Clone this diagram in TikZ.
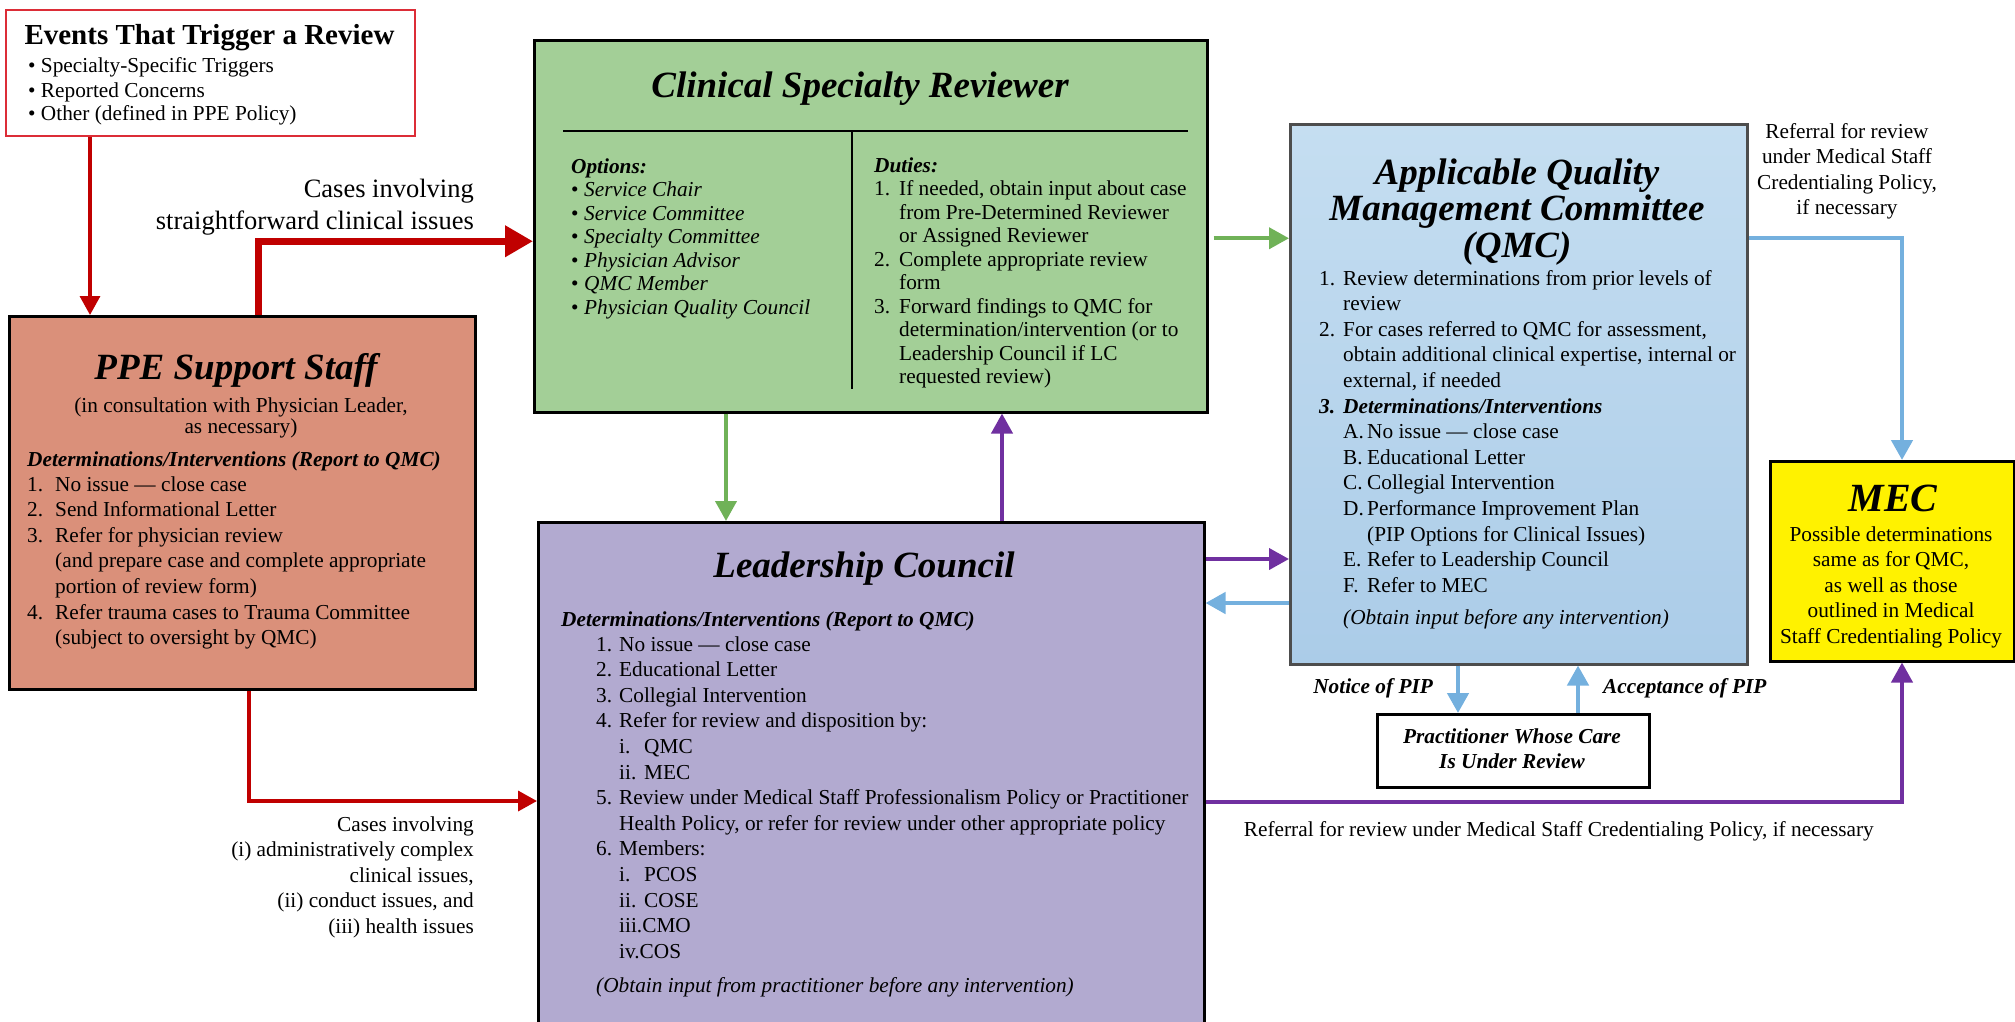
\documentclass[tikz,border=0pt]{standalone}
\usepackage{fontspec}
\setmainfont{Liberation Serif}
\usetikzlibrary{arrows.meta}

\definecolor{arrred}{HTML}{C00000}
\definecolor{evtred}{HTML}{DC2D37}
\definecolor{ppefill}{HTML}{DA907A}
\definecolor{csrfill}{HTML}{A3CF97}
\definecolor{lcfill}{HTML}{B2AAD0}
\definecolor{qmctop}{HTML}{C5DEF1}
\definecolor{qmcbot}{HTML}{ABCCE8}
\definecolor{qmcline}{HTML}{4D4D4D}
\definecolor{arrgreen}{HTML}{70B258}
\definecolor{arrpurple}{HTML}{7030A0}
\definecolor{arrblue}{HTML}{74B0DE}

\newcommand\bodyfont{\fontsize{21.3}{25.6}\selectfont}
\newcommand\ttlfont{\fontsize{37}{36.5}\selectfont\bfseries\itshape}
\newcommand\blk[2][l]{\begin{tabular}[t]{@{}#1@{}}#2\end{tabular}}
\newcommand\nm[2][24pt]{\makebox[#1][l]{#2}}

\begin{document}
\begin{tikzpicture}[x=1pt, y=-1pt, font=\bodyfont,
	box/.style={rectangle, draw=black, line width=2.5pt, inner sep=0pt, anchor=north west},
	txt/.style={inner sep=0pt, anchor=base west},
	bi/.style={font=\bodyfont\bfseries\itshape},
	ttl/.style={inner sep=0pt, anchor=base, font=\ttlfont},
	redarr/.style={draw=arrred, line width=3.5pt, -{Triangle[length=19pt,width=20pt]}},
	bigred/.style={draw=arrred, line width=7pt, -{Triangle[length=28pt,width=30pt]}},
	grnarr/.style={draw=arrgreen, line width=4pt, -{Triangle[length=20pt,width=21pt]}},
	purarr/.style={draw=arrpurple, line width=4pt, -{Triangle[length=20pt,width=21pt]}},
	bluarr/.style={draw=arrblue, line width=4.5pt, -{Triangle[length=20pt,width=21pt]}}]
			%%%%% START %%%%%
			\useasboundingbox (0,0) rectangle (2015,1021);
			\clip (0,0) rectangle (2015,1021);
			
			% boxes
			\node[box, draw=evtred, line width=2pt, fill=white, minimum width=409pt, minimum height=126pt] (evt) at (5,9) {};
			\node[box, fill=ppefill, minimum width=466pt, minimum height=373pt] (ppe) at (8,315) {};
			\node[box, fill=csrfill, minimum width=673pt, minimum height=372pt] (csr) at (533,39) {};
			\node[box, fill=lcfill, minimum width=666pt, minimum height=530pt] (lc) at (537,521) {};
			\node[box, draw=qmcline, top color=qmctop, bottom color=qmcbot, minimum width=457pt, minimum height=540pt] (qmc) at (1289,123) {};
			\node[box, fill=yellow, minimum width=244pt, minimum height=200pt] (mec) at (1769,460) {};
			\node[box, fill=white, minimum width=272pt, minimum height=73pt] (prac) at (1376,713) {};
			
			% events
			\node[txt, anchor=base, font=\fontsize{29}{30}\selectfont\bfseries] (evt-t) at (209.5,44) {Events That Trigger a Review};
			\node[txt, font=\fontsize{21.3}{22.5}\selectfont] (evt-l) at (28,72) {\blk{• Specialty-Specific Triggers\\[3pt]• Reported Concerns\\• Other (defined in PPE Policy)}};
			
			% ppe support staff
			\node[ttl] (ppe-t) at (236,379) {PPE Support Staff};
			\node[txt, anchor=base, font=\fontsize{21.3}{21.5}\selectfont] (ppe-s) at (241,412) {\blk[c]{(in consultation with Physician Leader,\\as necessary)}};
			\node[txt, bi] (ppe-h) at (27,466) {Determinations/Interventions (Report to QMC)};
			\node[txt] (ppe-l) at (27,491) {\blk{\nm[28pt]{1.}No issue — close case\\
				\nm[28pt]{2.}Send Informational Letter\\
				\nm[28pt]{3.}Refer for physician review\\
				\hspace*{28pt}(and prepare case and complete appropriate\\
				\hspace*{28pt}portion of review form)\\
				\nm[28pt]{4.}Refer trauma cases to Trauma Committee\\
				\hspace*{28pt}(subject to oversight by QMC)}};
			
			% clinical specialty reviewer
			\node[ttl] (csr-t) at (860,97) {Clinical Specialty Reviewer};
			\draw[line width=1.5pt] (563,131) -- (1188,131);
			\draw[line width=1.5pt] (852,131) -- (852,389);
			\node[txt, font=\fontsize{21.3}{23.5}\selectfont] (csr-o) at (571,173) {\blk{\textbf{\textit{Options:}}\\
				\nm[13pt]{•}\textit{Service Chair}\\
				\nm[13pt]{•}\textit{Service Committee}\\
				\nm[13pt]{•}\textit{Specialty Committee}\\
				\nm[13pt]{•}\textit{Physician Advisor}\\
				\nm[13pt]{•}\textit{QMC Member}\\
				\nm[13pt]{•}\textit{Physician Quality Council}}};
			\node[txt, font=\fontsize{21.3}{23.5}\selectfont] (csr-d) at (874,172) {\blk{\textbf{\textit{Duties:}}\\
				\nm[25pt]{1.}If needed, obtain input about case\\
				\hspace*{25pt}from Pre-Determined Reviewer\\
				\hspace*{25pt}or Assigned Reviewer\\
				\nm[25pt]{2.}Complete appropriate review\\
				\hspace*{25pt}form\\
				\nm[25pt]{3.}Forward findings to QMC for\\
				\hspace*{25pt}determination/intervention (or to\\
				\hspace*{25pt}Leadership Council if LC\\
				\hspace*{25pt}requested review)}};
			
			% leadership council
			\node[ttl] (lc-t) at (864,577) {Leadership Council};
			\node[txt, bi] (lc-h) at (561,626) {Determinations/Interventions (Report to QMC)};
			\node[txt] (lc-l) at (596,651) {\blk{\nm[23pt]{1.}No issue — close case\\
				\nm[23pt]{2.}Educational Letter\\
				\nm[23pt]{3.}Collegial Intervention\\
				\nm[23pt]{4.}Refer for review and disposition by:\\
				\hspace*{23pt}\nm[25pt]{i.}QMC\\
				\hspace*{23pt}\nm[25pt]{ii.}MEC\\
				\nm[23pt]{5.}Review under Medical Staff Professionalism Policy or Practitioner\\
				\hspace*{23pt}Health Policy, or refer for review under other appropriate policy\\
				\nm[23pt]{6.}Members:\\
				\hspace*{23pt}\nm[25pt]{i.}PCOS\\
				\hspace*{23pt}\nm[25pt]{ii.}COSE\\
				\hspace*{23pt}iii.CMO\\
				\hspace*{23pt}iv.COS\\[9pt]
				\textit{(Obtain input from practitioner before any intervention)}}};
			
			% quality management committee
			\node[ttl] (qmc-t) at (1517,184) {\blk[c]{Applicable Quality\\Management Committee\\(QMC)}};
			\node[txt] (qmc-l) at (1319,285) {\blk{\nm{1.}Review determinations from prior levels of\\
				\hspace*{24pt}review\\
				\nm{2.}For cases referred to QMC for assessment,\\
				\hspace*{24pt}obtain additional clinical expertise, internal or\\
				\hspace*{24pt}external, if needed\\
				\textbf{\textit{\nm{3.}Determinations/Interventions}}\\
				\hspace*{24pt}\nm{A.}No issue — close case\\
				\hspace*{24pt}\nm{B.}Educational Letter\\
				\hspace*{24pt}\nm{C.}Collegial Intervention\\
				\hspace*{24pt}\nm{D.}Performance Improvement Plan\\
				\hspace*{48pt}(PIP Options for Clinical Issues)\\
				\hspace*{24pt}\nm{E.}Refer to Leadership Council\\
				\hspace*{24pt}\nm{F.}Refer to MEC\\[7pt]
				\hspace*{24pt}\textit{(Obtain input before any intervention)}}};
			
			% mec
			\node[ttl, font=\fontsize{40}{40}\selectfont\bfseries\itshape] (mec-t) at (1893,511) {MEC};
			\node[txt, anchor=base] (mec-l) at (1891,541) {\blk[c]{Possible determinations\\same as for QMC,\\as well as those\\outlined in Medical\\Staff Credentialing Policy}};
			
			% practitioner
			\node[txt, anchor=base, bi] (prac-l) at (1512,743) {\blk[c]{Practitioner Whose Care\\Is Under Review}};
			
			% labels
			\node[txt, anchor=base east, font=\fontsize{26.5}{32}\selectfont] (lab-a) at (474,197) {\blk[r]{Cases involving\\straightforward clinical issues}};
			\node[txt, anchor=base east] (lab-b) at (474,831) {\blk[r]{Cases involving\\(i) administratively complex\\clinical issues,\\(ii) conduct issues, and\\(iii) health issues}};
			\node[txt, anchor=base] (lab-c) at (1847,138) {\blk[c]{Referral for review\\under Medical Staff\\Credentialing Policy,\\if necessary}};
			\node[txt, anchor=base east, bi] (lab-d) at (1433,693) {Notice of PIP};
			\node[txt, bi] (lab-e) at (1603,693) {Acceptance of PIP};
			\node[txt, anchor=base east] (lab-f) at (1874,836) {Referral for review under Medical Staff Credentialing Policy, if necessary};
			
			% arrows
			\draw[redarr] ([xshift=85]evt.south west) -- ([xshift=82]ppe.north west);
			\draw[bigred] ([xshift=250]ppe.north west) |- ([yshift=-15]csr.west);
			\draw[redarr] ([xshift=241]ppe.south west) |- ([yshift=-280]lc.north west);
			
			\draw[grnarr] ([xshift=193]csr.south west) -- ([xshift=189]lc.north west);
			\draw[purarr] ([xshift=465]lc.north west) -- ([xshift=469]csr.south west);
			\draw[grnarr, shorten <=5pt] ([yshift=-12]csr.east) -- ([yshift=-12]csr.east -| qmc.west);
			\draw[purarr] ([yshift=-38]lc.north east) -- ([yshift=-38]lc.north east -| qmc.west);
			\draw[bluarr] ([yshift=-480]qmc.north west) -- ([yshift=-480]qmc.north west -| lc.east);
			
			\draw[bluarr] ([yshift=-115]qmc.north east) -| ([xshift=133]mec.north west);
			\draw[bluarr] ([xshift=169]qmc.south west) -- ([xshift=82]prac.north west);
			\draw[bluarr] ([xshift=202]prac.north west) -- ([xshift=289]qmc.south west);
			\draw[purarr] ([yshift=-281]lc.north east) -| ([xshift=133]mec.south west);
			
			%%%%% END %%%%%
\end{tikzpicture}
\end{document}
